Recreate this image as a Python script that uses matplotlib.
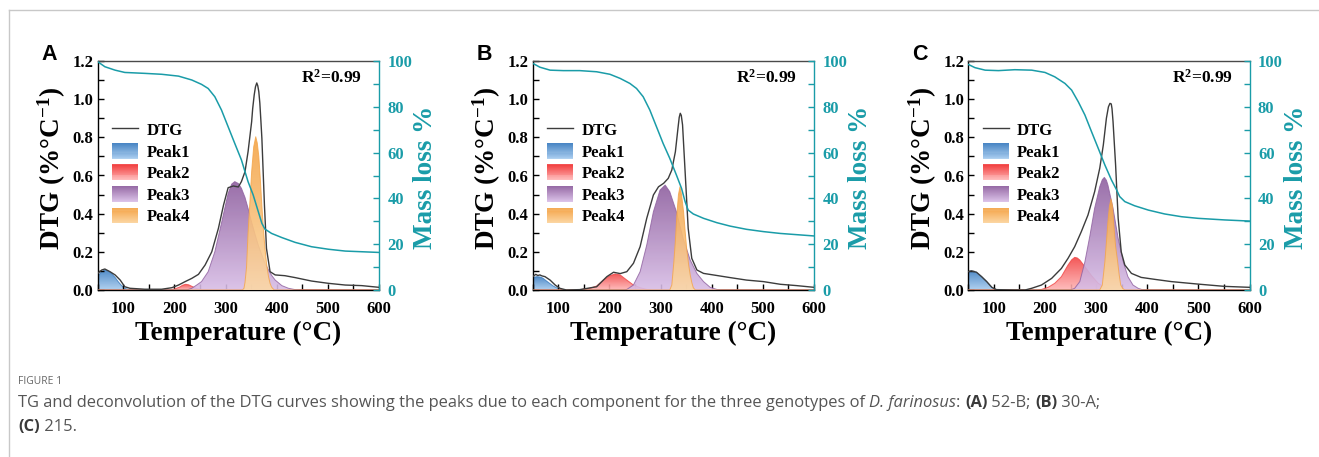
import numpy as np
import matplotlib
matplotlib.use('Agg')
import matplotlib.pyplot as plt
from matplotlib.colors import LinearSegmentedColormap
from matplotlib.legend_handler import HandlerBase
from matplotlib.patches import Rectangle
from matplotlib.lines import Line2D
from matplotlib.ticker import MultipleLocator

# ---------------- data ----------------
panel_letters = ["A", "B", "C"]
r2_labels = ["R$^{2}$=0.99", "R$^{2}$=0.99", "R$^{2}$=0.99"]
legend_labels = ["DTG", "Peak1", "Peak2", "Peak3", "Peak4"]
x_ticks = [100, 200, 300, 400, 500, 600]

# Panel A
A_DTG_T = [50, 58, 64, 74, 84, 94, 103, 113, 142, 175, 195, 208, 221, 234, 247, 260, 273, 286, 296, 305,
           315, 325, 331, 338, 344, 351, 353, 356, 358.5, 361, 363, 365, 367, 369, 371, 376, 380, 387, 397, 416,
           436, 468, 501, 534, 566, 600]
A_DTG = [0.087, 0.105, 0.110, 0.096, 0.079, 0.052, 0.017, 0.009, 0.004, 0.004, 0.012, 0.026, 0.044, 0.061, 0.082,
         0.131, 0.200, 0.323, 0.445, 0.536, 0.545, 0.540, 0.568, 0.620, 0.725, 0.882, 0.950, 1.022, 1.065, 1.085,
         1.070, 1.039, 0.980, 0.890, 0.795, 0.445, 0.218, 0.096, 0.079, 0.075, 0.065, 0.047, 0.035, 0.026, 0.023, 0.014]
A_TG_T = [50, 64, 84, 103, 142, 175, 208, 234, 253, 266, 279, 292, 305, 318, 331, 344, 354, 364, 371, 377,
          390, 410, 436, 468, 501, 534, 600]
A_TG = [99.7, 97.5, 96.0, 95.0, 94.6, 94.2, 93.4, 91.7, 89.8, 88.0, 84.4, 78.6, 71.3, 64.0, 56.8, 47.3, 41.5,
        34.2, 29.1, 26.6, 24.7, 22.9, 20.8, 18.9, 17.8, 17.0, 16.4]
A_P1_T = [50, 57, 64, 70, 77, 84, 90, 95, 100, 105, 110, 600]
A_P1 = [0.070, 0.095, 0.105, 0.100, 0.087, 0.066, 0.044, 0.028, 0.014, 0.007, 0.003, 0.0]
A_P2_T = [50, 190, 200, 210, 216, 222, 228, 235, 243, 252, 600]
A_P2 = [0, 0, 0.005, 0.015, 0.025, 0.030, 0.027, 0.018, 0.008, 0.002, 0]
A_P3_T = [50, 225, 234, 243, 253, 266, 279, 292, 305, 312, 318, 325, 331, 338, 344, 351, 358, 364, 371, 377,
          384, 390, 397, 410, 423, 436, 450, 600]
A_P3 = [0, 0.001, 0.009, 0.025, 0.044, 0.096, 0.200, 0.350, 0.506, 0.555, 0.568, 0.558, 0.533, 0.485, 0.428,
        0.355, 0.288, 0.235, 0.183, 0.140, 0.105, 0.077, 0.052, 0.023, 0.009, 0.002, 0, 0]
A_P4_T = [50, 333, 336, 338, 341, 344, 348, 351, 355, 359, 362, 365, 368, 371, 374, 377, 380, 384, 387, 390, 395, 600]
A_P4 = [0, 0, 0.009, 0.04, 0.12, 0.30, 0.48, 0.62, 0.75, 0.803, 0.77, 0.70, 0.58, 0.44, 0.32, 0.22, 0.14, 0.07,
        0.035, 0.015, 0.0, 0]

# Panel B
B_DTG_T = [50, 56, 60, 64, 68, 74, 84, 94, 103, 116, 142, 175, 195, 208, 221, 234, 247, 260, 273, 286,
           296, 306, 315, 322, 329, 334, 336.5, 338.5, 340.5, 343, 348, 354, 361, 371, 384, 403, 436, 468, 501, 534,
           566, 600]
B_DTG = [0.070, 0.082, 0.076, 0.079, 0.074, 0.070, 0.052, 0.026, 0.009, 0.000, 0.002, 0.017, 0.070, 0.093, 0.086,
         0.096, 0.140, 0.227, 0.376, 0.498, 0.541, 0.559, 0.585, 0.629, 0.725, 0.847, 0.905, 0.926, 0.915, 0.865,
         0.620, 0.323, 0.166, 0.105, 0.087, 0.079, 0.065, 0.052, 0.044, 0.030, 0.023, 0.014]
B_TG_T = [50, 64, 84, 110, 142, 175, 201, 221, 240, 253, 266, 279, 292, 305, 318, 331, 341, 348, 354, 364,
          384, 410, 436, 468, 501, 534, 600]
B_TG = [99.0, 97.3, 96.0, 95.8, 95.8, 95.3, 94.2, 92.4, 90.2, 88.0, 84.4, 78.6, 71.3, 64.0, 57.5, 50.2, 44.4,
        38.6, 34.9, 33.2, 31.3, 29.4, 27.9, 26.5, 25.5, 24.7, 23.6]
B_P1_T = [50, 58, 65, 70, 77, 84, 90, 97, 103, 110, 600]
B_P1 = [0.065, 0.070, 0.068, 0.062, 0.047, 0.033, 0.021, 0.011, 0.005, 0.0, 0]
B_P2_T = [50, 130, 143, 162, 175, 188, 201, 211, 221, 234, 247, 260, 273, 285, 600]
B_P2 = [0, 0, 0.002, 0.009, 0.021, 0.052, 0.075, 0.084, 0.079, 0.052, 0.026, 0.012, 0.003, 0, 0]
B_P3_T = [50, 228, 234, 247, 260, 273, 286, 299, 309, 318, 331, 344, 358, 371, 384, 397, 410, 420, 600]
B_P3 = [0, 0, 0.003, 0.026, 0.096, 0.236, 0.410, 0.524, 0.550, 0.515, 0.410, 0.271, 0.157, 0.087, 0.044, 0.014,
        0.003, 0, 0]
B_P4_T = [50, 318, 322, 326, 329, 332, 335, 338, 341, 345, 348, 351, 355, 358, 361, 364, 368, 600]
B_P4 = [0, 0, 0.026, 0.148, 0.26, 0.40, 0.50, 0.541, 0.50, 0.41, 0.31, 0.218, 0.13, 0.079, 0.04, 0.012, 0, 0]

# Panel C
C_DTG_T = [50, 56, 66, 76, 86, 96, 105, 141, 161, 174, 193, 213, 232, 245, 258, 271, 284, 297, 307, 314,
           320, 324, 327, 329.5, 331, 333, 338, 343, 349, 356, 369, 388, 414, 447, 499, 551, 600]
C_DTG = [0.096, 0.100, 0.093, 0.070, 0.044, 0.014, 0.002, 0.0, 0.0, 0.009, 0.026, 0.061, 0.113, 0.166, 0.227,
         0.306, 0.393, 0.515, 0.638, 0.760, 0.900, 0.960, 0.978, 0.975, 0.95, 0.882, 0.655, 0.376, 0.200, 0.131,
         0.087, 0.066, 0.056, 0.044, 0.031, 0.019, 0.014]
C_TG_T = [50, 63, 83, 109, 141, 174, 200, 219, 239, 252, 265, 278, 291, 304, 317, 330, 340, 346, 356, 375,
          402, 434, 467, 499, 551, 600]
C_TG = [98.5, 97.1, 96.0, 95.8, 96.2, 96.0, 95.0, 93.1, 90.2, 87.3, 82.2, 76.4, 69.1, 61.9, 54.6, 48.0, 43.7,
        40.8, 38.6, 36.8, 34.9, 33.2, 32.0, 31.3, 30.6, 30.1]
C_P1_T = [50, 56, 66, 76, 86, 96, 105, 600]
C_P1 = [0.096, 0.100, 0.093, 0.070, 0.044, 0.014, 0.0, 0]
C_P2_T = [50, 185, 193, 206, 219, 232, 245, 252, 258, 263, 268, 278, 291, 304, 317, 330, 340, 600]
C_P2 = [0, 0, 0.003, 0.014, 0.035, 0.070, 0.131, 0.158, 0.171, 0.168, 0.157, 0.122, 0.075, 0.035, 0.014, 0.003, 0, 0]
C_P3_T = [50, 250, 258, 268, 278, 288, 297, 307, 312, 316, 320, 323, 333, 343, 353, 362, 372, 382, 392, 600]
C_P3 = [0, 0, 0.009, 0.044, 0.148, 0.288, 0.428, 0.541, 0.578, 0.590, 0.575, 0.550, 0.428, 0.271, 0.148, 0.070,
        0.026, 0.009, 0, 0]
C_P4_T = [50, 307, 312, 317, 320, 323, 326, 329, 332, 335, 338, 342, 345, 348, 352, 356, 600]
C_P4 = [0, 0, 0.026, 0.148, 0.25, 0.358, 0.44, 0.477, 0.44, 0.323, 0.23, 0.148, 0.08, 0.026, 0.008, 0, 0]

panels = [
    dict(dtg=(A_DTG_T, A_DTG), tg=(A_TG_T, A_TG),
         peaks=[(A_P1_T, A_P1), (A_P2_T, A_P2), (A_P3_T, A_P3), (A_P4_T, A_P4)]),
    dict(dtg=(B_DTG_T, B_DTG), tg=(B_TG_T, B_TG),
         peaks=[(B_P1_T, B_P1), (B_P2_T, B_P2), (B_P3_T, B_P3), (B_P4_T, B_P4)]),
    dict(dtg=(C_DTG_T, C_DTG), tg=(C_TG_T, C_TG),
         peaks=[(C_P1_T, C_P1), (C_P2_T, C_P2), (C_P3_T, C_P3), (C_P4_T, C_P4)]),
]

caption_title = "FIGURE 1"
caption_line1 = [("TG and deconvolution of the DTG curves showing the peaks due to each component for the three genotypes of ", "normal", "normal"),
                 ("D. farinosus", "normal", "italic"),
                 (": ", "normal", "normal"),
                 ("(A)", "bold", "normal"),
                 (" 52-B; ", "normal", "normal"),
                 ("(B)", "bold", "normal"),
                 (" 30-A;", "normal", "normal")]
caption_line2 = [("(C)", "bold", "normal"), (" 215.", "normal", "normal")]

# ---------------- style ----------------
plt.rcParams['font.family'] = ['Liberation Serif', 'DejaVu Serif']
plt.rcParams['font.weight'] = 'bold'
plt.rcParams['mathtext.fontset'] = 'custom'
plt.rcParams['mathtext.rm'] = 'Liberation Serif:bold'
plt.rcParams['mathtext.bf'] = 'Liberation Serif:bold'
plt.rcParams['mathtext.default'] = 'regular'

TEAL = '#1a9ca8'
DTG_COLOR = '#3c3c3c'
PEAK_COLORS = [('#3a7cc0', '#a9cdef'), ('#f24444', '#ffb6b6'), ('#8e5f9f', '#d8bde6'), ('#f4a447', '#fcd8a6')]

W, H = 1319, 457
fig = plt.figure(figsize=(W / 100, H / 100), dpi=100)

axes_left_px = [97.7, 532.7, 968.3]
ax_w_px = 281.3
ax_top_px, ax_bot_px = 61, 290


def grad_fill(ax, x, y, c_top, c_bot, z):
    x = np.asarray(x, float)
    y = np.asarray(y, float)
    poly = ax.fill(np.r_[x, x[::-1]], np.r_[y, np.zeros_like(y)], facecolor='none',
                   edgecolor='none', zorder=z)[0]
    cmap = LinearSegmentedColormap.from_list('g', [c_bot, c_top])
    grad = np.linspace(0, 1, 256).reshape(-1, 1)
    im = ax.imshow(grad, extent=[x.min(), x.max(), 0, y.max()], origin='lower', aspect='auto',
                   cmap=cmap, alpha=0.9, zorder=z, interpolation='bilinear')
    im.set_clip_path(poly)
    ax.plot(x, y, color=c_top, lw=0.7, alpha=0.8, zorder=z + 0.1)


class GradHandler(HandlerBase):
    def __init__(self, top, bot):
        super().__init__()
        self.cmap = LinearSegmentedColormap.from_list('g', [bot, top])

    def create_artists(self, legend, orig_handle, xdescent, ydescent, width, height, fontsize, trans):
        n = 16
        arts = []
        for i in range(n):
            c = self.cmap(i / (n - 1))
            r = Rectangle((-xdescent, -ydescent + height * i / n), width, height / n + 0.3,
                          facecolor=c, edgecolor='none', alpha=0.92, transform=trans)
            arts.append(r)
        return arts


for k, p in enumerate(panels):
    L = axes_left_px[k]
    ax = fig.add_axes([L / W, (H - ax_bot_px) / H, ax_w_px / W, (ax_bot_px - ax_top_px) / H])
    for i, (pt, pv) in enumerate(p['peaks']):
        grad_fill(ax, pt, pv, PEAK_COLORS[i][0], PEAK_COLORS[i][1], 1 + i)
    ax.plot(p['dtg'][0], p['dtg'][1], color=DTG_COLOR, lw=1.0, zorder=6)
    ax.set_xlim(50, 600)
    ax.set_ylim(0, 1.2)
    ax.set_xticks(x_ticks)
    ax.xaxis.set_minor_locator(MultipleLocator(50))
    ax.yaxis.set_major_locator(MultipleLocator(0.2))
    ax.yaxis.set_minor_locator(MultipleLocator(0.1))
    ax.set_yticklabels([f"{v:.1f}" for v in ax.get_yticks()])
    ax.tick_params(which='both', direction='in', length=4, width=1.0, labelsize=12,
                   top=False, right=False, colors='black')
    ax.tick_params(axis='x', which='both', pad=8)
    ax.tick_params(axis='y', which='both', pad=3.0)
    for s in ['left', 'bottom']:
        ax.spines[s].set_linewidth(1.0)
        ax.spines[s].set_color('black')
    ax.spines['top'].set_color('#4a4a4a')
    ax.spines['top'].set_linewidth(1.0)
    ax.spines['right'].set_visible(False)

    ax.set_xlabel("Temperature (°C)", fontsize=19.5, fontweight='bold')
    ax.xaxis.set_label_coords(0.5, -0.135)
    ax.set_ylabel("DTG (%°C$^{-1}$)", fontsize=19.5, fontweight='bold')
    ax.yaxis.set_label_coords(-0.105, 0.53)

    ax.text(0.94, 0.928, r2_labels[k], transform=ax.transAxes, ha='right', va='center',
            fontsize=12.5, fontweight='bold')

    # legend
    h_line = Line2D([], [], color=DTG_COLOR, lw=1.0)
    h_peaks = [Rectangle((0, 0), 1, 1) for _ in range(4)]
    hmap = {h_peaks[i]: GradHandler(*PEAK_COLORS[i]) for i in range(4)}
    leg = ax.legend([h_line] + h_peaks, legend_labels, loc='upper left',
                    bbox_to_anchor=(0.052, 0.735), frameon=False,
                    handlelength=1.55, handleheight=1.05, labelspacing=0.25, handletextpad=0.5,
                    borderpad=0, borderaxespad=0, handler_map=hmap,
                    prop={'family': 'Liberation Serif', 'weight': 'bold', 'size': 12})
    leg.set_zorder(10)

    ax2 = ax.twinx()
    ax2.plot(p['tg'][0], p['tg'][1], color=TEAL, lw=1.1, zorder=7)
    ax2.set_ylim(0, 100)
    ax2.set_xlim(50, 600)
    ax2.yaxis.set_major_locator(MultipleLocator(20))
    ax2.yaxis.set_minor_locator(MultipleLocator(10))
    ax2.tick_params(axis='y', which='both', direction='in', length=4, width=1.0, labelsize=12,
                    colors=TEAL, pad=6)
    for s in ['left', 'top', 'bottom']:
        ax2.spines[s].set_visible(False)
    ax2.spines['right'].set_color(TEAL)
    ax2.spines['right'].set_linewidth(1.0)
    ax2.set_ylabel("Mass loss %", fontsize=19.5, fontweight='bold', color=TEAL)
    ax2.yaxis.set_label_coords(1.122, 0.49)

    fig.text((L - 56) / W, 1 - 55 / H, panel_letters[k], ha='left', va='center',
             fontsize=15.5, fontweight='bold', family='Liberation Sans')

# border lines
fig.add_artist(Line2D([9 / W, 1], [1 - 10 / H, 1 - 10 / H], color='#c8c8c8', lw=1.0))
fig.add_artist(Line2D([9 / W, 9 / W], [0, 1 - 10 / H], color='#c8c8c8', lw=1.0))

# caption
fig.text(18 / W, 1 - 382 / H, caption_title, ha='left', va='center', fontsize=7.5,
         family='Open Sans', fontweight='normal', color='#666666')
renderer = fig.canvas.get_renderer()

CAP_SIZE = 11.85


def draw_line(pieces, y_px):
    x = 18 / W
    for s, wgt, sty in pieces:
        t = fig.text(x, 1 - y_px / H, s, ha='left', va='center', fontsize=CAP_SIZE, family='Open Sans',
                     fontweight=wgt, fontstyle=sty, color='#555555' if wgt == 'normal' else '#3a3a3a')
        bb = t.get_window_extent(renderer)
        x = bb.x1 / W


draw_line(caption_line1, 403)
draw_line(caption_line2, 427)

fig.savefig('out.png', dpi=100)
